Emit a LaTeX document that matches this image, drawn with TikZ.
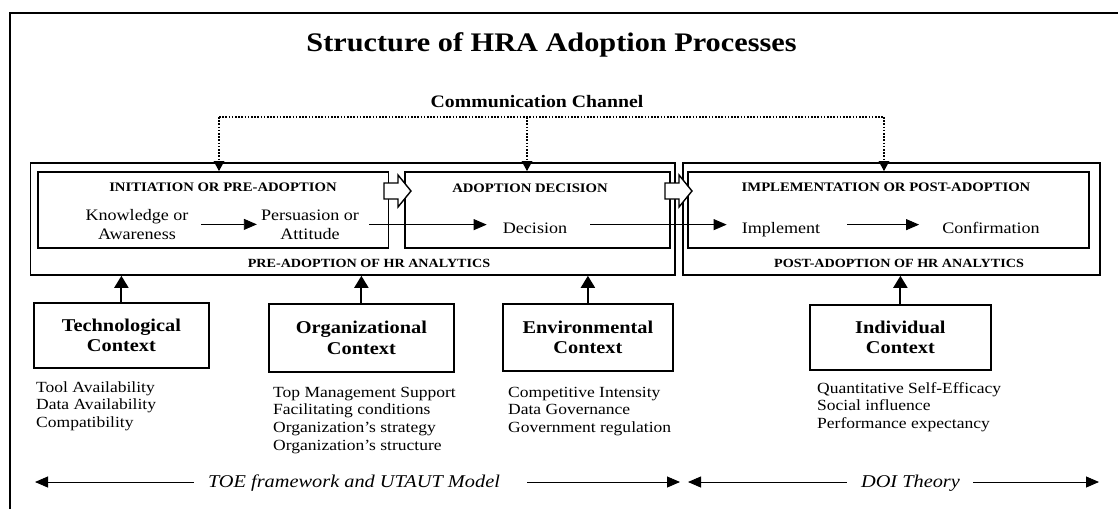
\documentclass[tikz,border=0pt]{standalone}
\usepackage{fontspec}
\setmainfont{Liberation Serif}[FakeStretch=1.13]
\usetikzlibrary{arrows.meta,calc}

\tikzset{
  frame/.style={line width=1.8pt},
  stagebox/.style={draw, line width=1.8pt, inner sep=0pt, anchor=north west},
  ctxbox/.style={draw, line width=1.8pt, anchor=north west, align=center,
    font=\fontsize{18}{20.5}\selectfont\bfseries},
  caplabel/.style={inner sep=0pt, anchor=base, font=\fontsize{13}{15}\selectfont\bfseries},
  steptext/.style={inner sep=0pt, align=center, anchor=base, font=\fontsize{16}{18.3}\selectfont},
  itemlist/.style={inner sep=0pt, anchor=base west, align=left, font=\fontsize{15.5}{17.8}\selectfont},
  theory/.style={inner sep=0pt, anchor=base, font=\fontsize{18}{20}\selectfont\itshape},
  flow/.style={line width=0.9pt, -{Triangle[length=13pt,width=11pt]}},
  channel/.style={line width=1.6pt, dash pattern=on 1.6pt off 1.6pt},
  feed/.style={line width=2pt, -{Triangle[length=12pt,width=14pt]}},
  span/.style={line width=0.9pt, -{Triangle[length=13pt,width=11pt]}},
  blockarrow/.style={draw, line width=1.4pt, fill=white, line join=miter},
}

\begin{document}
\begin{tikzpicture}[x=1pt,y=-1pt]
  % canvas
  \fill[white] (0,0) rectangle (1118,509);
  \useasboundingbox (0,0) rectangle (1118,509);

  % outer frame (left and top edges)
  \draw[frame] (9.6,509) -- (9.6,13) -- (1118,13);

  % headings
  \node[inner sep=0pt, anchor=base, font=\fontsize{26.8}{30}\selectfont\bfseries] (title)
    at (551.5,51) {Structure of HRA Adoption Processes};
  \node[inner sep=0pt, anchor=base, font=\fontsize{17.5}{20}\selectfont\bfseries] (comm)
    at (537,107) {Communication Channel};

  % stage boxes
  \node[stagebox, minimum width=644.4pt, minimum height=112pt] (prebox)   at (29.6,162) {};
  \node[stagebox, minimum width=350.5pt, minimum height=76pt]  (initbox)  at (37,171) {};
  \node[stagebox, minimum width=265pt,   minimum height=76pt]  (adoptbox) at (404,171) {};
  \node[stagebox, minimum width=417pt,   minimum height=112pt] (postbox)  at (682,162) {};
  \node[stagebox, minimum width=401pt,   minimum height=76pt]  (implbox)  at (687,171) {};

  % stage captions
  \node[caplabel] (initlbl)  at (223,191.5) {INITIATION OR PRE-ADOPTION};
  \node[caplabel] (adoptlbl) at (530,192.5) {ADOPTION DECISION};
  \node[caplabel] (impllbl)  at (886,191.5) {IMPLEMENTATION OR POST-ADOPTION};
  \node[caplabel, font=\fontsize{12.5}{15}\selectfont\bfseries] (prelbl)  at (369,267.5) {PRE-ADOPTION OF HR ANALYTICS};
  \node[caplabel, font=\fontsize{12.5}{15}\selectfont\bfseries] (postlbl) at (899,267.5) {POST-ADOPTION OF HR ANALYTICS};

  % communication channel
  \coordinate (cl) at (219,117);
  \coordinate (cm) at (527,117);
  \coordinate (cr) at (884,117);
  \draw[channel] (cl) -- (cr);
  \draw[channel] (cl) -- (cl |- initbox.north);
  \draw[channel] (cm) -- (cm |- adoptbox.north);
  \draw[channel] (cr) -- (cr |- implbox.north);
  \fill ($(cl |- initbox.north)+(-5.5,-10)$) -- ($(cl |- initbox.north)+(5.5,-10)$) -- (cl |- initbox.north) -- cycle;
  \fill ($(cm |- adoptbox.north)+(-5.5,-10)$) -- ($(cm |- adoptbox.north)+(5.5,-10)$) -- (cm |- adoptbox.north) -- cycle;
  \fill ($(cr |- implbox.north)+(-5.5,-10)$) -- ($(cr |- implbox.north)+(5.5,-10)$) -- (cr |- implbox.north) -- cycle;

  % block arrows between stages
  \draw[blockarrow] (384,183) -- (398,183) -- (398,175) -- (411,191) -- (398,207) -- (398,199) -- (384,199) -- cycle;
  \draw[blockarrow] (665,183) -- (679,183) -- (679,175) -- (692,191) -- (679,207) -- (679,199) -- (665,199) -- cycle;

  % process steps (base anchor = baseline of the last line)
  \node[steptext] (know)      at (137,239) {Knowledge or\\Awareness};
  \node[steptext] (pers)      at (310,239) {Persuasion or\\Attitude};
  \node[steptext] (dec)       at (535,233) {Decision};
  \node[steptext] (implement) at (781,233) {Implement};
  \node[steptext] (confirm)   at (991,233) {Confirmation};

  \draw[flow] ([xshift=12.5pt]know.east) -- ([xshift=-4pt]pers.west |- know.east);
  \draw[flow] ([xshift=10pt]pers.east) -- ([xshift=-16pt]dec.west |- pers.east);
  \draw[flow] ([xshift=23pt]dec.east |- pers.east) -- ([xshift=-15pt]implement.west |- pers.east);
  \draw[flow] ([xshift=27pt]implement.east |- pers.east) -- ([xshift=-23pt]confirm.west |- pers.east);

  % context boxes
  \node[ctxbox, minimum width=175pt, minimum height=65pt] (tech) at (33,302)  {Technological\\Context};
  \node[ctxbox, minimum width=185pt, minimum height=68pt] (org)  at (268,303) {Organizational\\Context};
  \node[ctxbox, minimum width=170pt, minimum height=67pt] (env)  at (502,303) {Environmental\\Context};
  \node[ctxbox, minimum width=181pt, minimum height=65pt] (ind)  at (809,304) {Individual\\Context};

  \draw[feed] (tech.north) -- (tech.north |- prebox.south);
  \draw[feed] (org.north)  -- (org.north |- prebox.south);
  \draw[feed] (env.north)  -- (env.north |- prebox.south);
  \draw[feed] (ind.north)  -- (ind.north |- postbox.south);

  % factor lists (base anchor = baseline of the last line)
  \node[itemlist] (techlist) at (36,427.6)  {Tool Availability\\Data Availability\\Compatibility};
  \node[itemlist] (orglist)  at (273,450.4) {Top Management Support\\Facilitating conditions\\Organization’s strategy\\Organization’s structure};
  \node[itemlist] (envlist)  at (508,432.6) {Competitive Intensity\\Data Governance\\Government regulation};
  \node[itemlist] (indlist)  at (817,428.6) {Quantitative Self-Efficacy\\Social influence\\Performance expectancy};

  % theory spans
  \node[theory] (toe) at (354,487)   {TOE framework and UTAUT Model};
  \node[theory] (doi) at (910.5,487) {DOI Theory};
  \coordinate (toeL) at (35,482);
  \coordinate (toeR) at (680,482);
  \coordinate (doiL) at (688,482);
  \coordinate (doiR) at (1099,482);
  \draw[span] ([xshift=-14pt]toe.west |- toeL) -- (toeL);
  \draw[span] ([xshift=27pt]toe.east |- toeR) -- (toeR);
  \draw[span] ([xshift=-14pt]doi.west |- doiL) -- (doiL);
  \draw[span] ([xshift=13pt]doi.east |- doiR) -- (doiR);
\end{tikzpicture}
\end{document}
